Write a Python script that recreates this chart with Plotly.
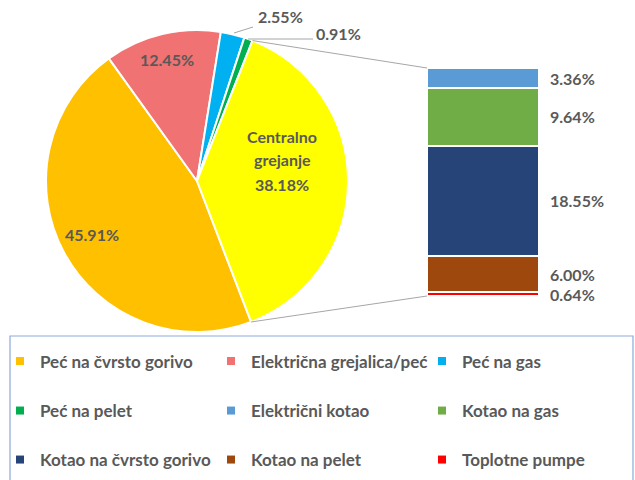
import plotly.graph_objects as go
import math

# ---- data ----
pie_labels = ["Peć na čvrsto gorivo", "Električna grejalica/peć", "Peć na gas", "Peć na pelet", "Centralno grejanje"]
pie_values = [45.91, 12.45, 2.55, 0.91, 38.18]
pie_colors = ["#FFC000", "#F07272", "#00B0F0", "#00B050", "#FFFF00"]

bar_labels = ["Toplotne pumpe", "Kotao na pelet", "Kotao na čvrsto gorivo", "Kotao na gas", "Električni kotao"]
bar_values = [0.64, 6.00, 18.55, 9.64, 3.36]
bar_colors = ["#FF0000", "#9E480E", "#264478", "#70AD47", "#5B9BD5"]

legend_rows = [
    ["Peć na čvrsto gorivo", "Električna grejalica/peć", "Peć na gas"],
    ["Peć na pelet", "Električni kotao", "Kotao na gas"],
    ["Kotao na čvrsto gorivo", "Kotao na pelet", "Toplotne pumpe"],
]

W, H = 635, 480
TXT = "#595959"
FONT = "Lato"
FS = 16
LFS = 17

# geometry (pixels)
cx, cy, R = 197, 181, 151
rotation = 159
bar_left, bar_right, bar_top, bar_bot = 427, 539, 68, 296

def px(x):
    return x / W

def py(y):
    return 1 - y / H

fig = go.Figure()

fig.add_trace(go.Pie(
    labels=pie_labels, values=pie_values, sort=False, direction="clockwise",
    rotation=rotation, textinfo="none", showlegend=False,
    marker=dict(colors=pie_colors, line=dict(color="white", width=2)),
    domain=dict(x=[px(cx - R), px(cx + R)], y=[py(cy + R), py(cy - R)]),
))

color_of = dict(zip(pie_labels, pie_colors))
color_of.update(zip(bar_labels, bar_colors))

cum = 0
for lab, val, col in zip(bar_labels, bar_values, bar_colors):
    fig.add_trace(go.Bar(
        x=[0], y=[val], name=lab, width=1, showlegend=False,
        marker=dict(color=col, line=dict(color="white", width=2)),
        xaxis="x", yaxis="y",
    ))
    fig.add_annotation(
        x=0.5, y=cum + val / 2, xref="x", yref="y", xanchor="left", yanchor="middle",
        xshift=9, text=f"{val:.2f}%", showarrow=False,
        font=dict(family=FONT, size=FS, color=TXT, weight="bold"),
    )
    cum += val

# legend entries
legend_keys = ["legend", "legend2", "legend3"]
for row, key in zip(legend_rows, legend_keys):
    for name in row:
        fig.add_trace(go.Scatter(
            x=[None], y=[None], mode="markers", name=name, legend=key,
            marker=dict(symbol="square", size=8, color=color_of[name]),
            xaxis="x", yaxis="y",
        ))

leg_y = [361.5, 411, 460]
leg_common = dict(orientation="h", x=0.0, xanchor="left", yanchor="middle",
                  entrywidth=166, entrywidthmode="pixels", bgcolor="rgba(0,0,0,0)",
                  font=dict(family=FONT, size=LFS, color=TXT, weight="bold"),
                  traceorder="normal", itemclick=False)
fig.update_layout(
    legend=dict(y=py(leg_y[0]), **leg_common),
    legend2=dict(y=py(leg_y[1]), **leg_common),
    legend3=dict(y=py(leg_y[2]), **leg_common),
)

# pie labels
total = sum(pie_values)
def ann(x, y, text):
    fig.add_annotation(x=px(x), y=py(y), xref="paper", yref="paper", text=text,
                       showarrow=False, xanchor="center", yanchor="middle",
                       font=dict(family=FONT, size=FS, color=TXT, weight="bold"))

ann(92, 235, f"{pie_values[0]:.2f}%")
ann(167, 59, f"{pie_values[1]:.2f}%")
ann(280, 17, f"{pie_values[2]:.2f}%")
ann(338, 34, f"{pie_values[3]:.2f}%")
ann(282, 136, "Centralno")
ann(282, 159, "grejanje")
ann(282, 184, f"{pie_values[4]:.2f}%")

# leader lines for small slices
def line(x0, y0, x1, y1, color="#A6A6A6", width=1):
    fig.add_shape(type="line", xref="paper", yref="paper",
                  x0=px(x0), y0=py(y0), x1=px(x1), y1=py(y1),
                  line=dict(color=color, width=width))

line(234, 33, 253, 27)
line(248, 39, 313, 39)

# connectors from the "other" slice to the bar
start_other = rotation + 360 * (total - pie_values[4]) / total
end_other = rotation + 360
def pt(a):
    r = math.radians(a)
    return cx + R * math.sin(r), cy - R * math.cos(r)
x0, y0 = pt(start_other)
x1, y1 = pt(end_other)
line(x0, y0, bar_left, bar_top)
line(x1, y1, bar_left, bar_bot)

# legend box
fig.add_shape(type="rect", xref="paper", yref="paper",
              x0=px(10), x1=px(633), y0=py(540), y1=py(336),
              line=dict(color="#8EA9DB", width=1.2))

fig.update_layout(
    width=W, height=H, margin=dict(l=0, r=0, t=0, b=0),
    paper_bgcolor="white", plot_bgcolor="white",
    barmode="stack", bargap=0,
    xaxis=dict(domain=[px(bar_left), px(bar_right)], range=[-0.5, 0.5], visible=False, fixedrange=True),
    yaxis=dict(domain=[py(bar_bot), py(bar_top)], range=[0, sum(bar_values)], visible=False, fixedrange=True),
)

fig.write_html("out.html", config={"displayModeBar": False},
               post_script="document.body.style.margin='0';document.body.style.overflow='hidden';")
